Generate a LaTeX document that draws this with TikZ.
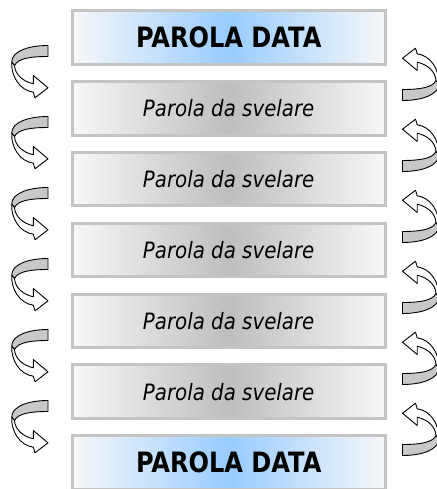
\documentclass[tikz,border=0pt]{standalone}
\usepackage{fontspec}
\setmainfont{DejaVu Sans}
\usepackage{graphicx}
\definecolor{boxblue}{HTML}{99CCFF}
\definecolor{boxgray}{HTML}{BEBEBE}
\definecolor{boxborder}{HTML}{C4C4C4}
\definecolor{arrowgray}{HTML}{C8C8C8}
\tikzset{
  wordbox/.style={draw=boxborder, line width=3pt, inner sep=0pt,
    minimum width=313pt, minimum height=53.4pt,
    left color=white!97!black, right color=white!97!black},
  givenbox/.style={wordbox, middle color=boxblue,
    font=\fontsize{28}{30}\selectfont\bfseries},
  hiddenbox/.style={wordbox, middle color=boxgray,
    font=\fontsize{22.5}{25}\selectfont\itshape},
  arrowline/.style={draw=black, line width=0.9pt, line join=round},
  curvarrow/.pic={
    \path[arrowline, fill=arrowgray]
      (0,0) .. controls (-20,0) and (-36.3,6) .. (-36.3,16.6)
      -- (-33.5,20) .. controls (-30,13) and (-18,11) .. (0,11) -- cycle;
    \path[arrowline, fill=white]
      (-36.3,16.6) .. controls (-37,31) and (-28,45) .. (-14.7,46.7)
      -- (-13,52.3) -- (0,42.3) -- (-14.7,30) -- (-14.7,38.3)
      .. controls (-25,36) and (-33,29) .. (-33.5,20) -- cycle;
  }
}
\begin{document}
\begin{tikzpicture}[x=1pt, y=-1pt]
  \useasboundingbox (0,0) rectangle (436,489);
  \node[givenbox] (b0) at (228.7,37.5) {\scalebox{0.86}[1]{PAROLA DATA}};
  \node[hiddenbox] (b1) at (228.7,108.33) {\scalebox{0.88}[1]{Parola da svelare}};
  \node[hiddenbox] (b2) at (228.7,179.16) {\scalebox{0.88}[1]{Parola da svelare}};
  \node[hiddenbox] (b3) at (228.7,249.99) {\scalebox{0.88}[1]{Parola da svelare}};
  \node[hiddenbox] (b4) at (228.7,320.82) {\scalebox{0.88}[1]{Parola da svelare}};
  \node[hiddenbox] (b5) at (228.7,391.65) {\scalebox{0.88}[1]{Parola da svelare}};
  \node[givenbox] (b6) at (228.7,462.48) {\scalebox{0.86}[1]{PAROLA DATA}};
  \foreach \k in {0,...,5} {
    \pic at (48,45.5+71*\k) {curvarrow};
    \pic[rotate=180] at (402.5,100.5+71*\k) {curvarrow};
  }
\end{tikzpicture}
\end{document}
